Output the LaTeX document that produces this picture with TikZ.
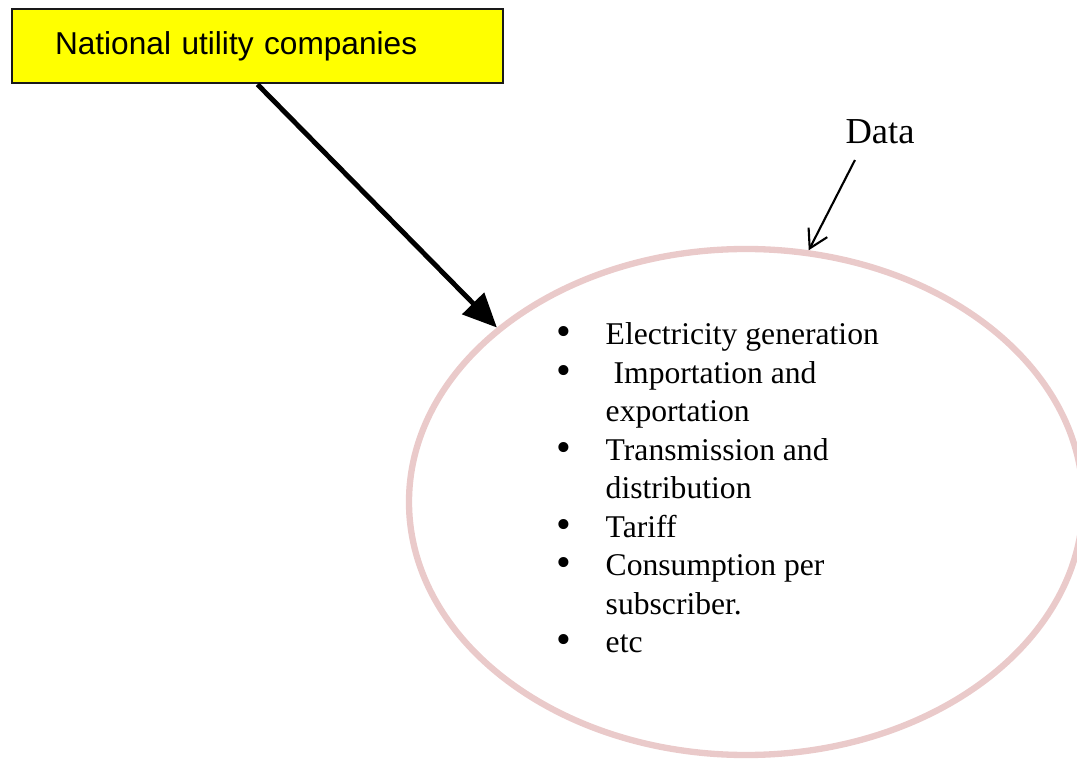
\documentclass[tikz,border=0pt]{standalone}
\usepackage{fontspec}
\setmainfont{Liberation Serif}
\newfontfamily\arialfont{Liberation Sans}
\usetikzlibrary{shapes.geometric,arrows.meta}
\definecolor{boxyellow}{RGB}{255,255,0}
\definecolor{rimpink}{RGB}{234,202,202}

\begin{document}
\begin{tikzpicture}
	\tikzstyle{company}=[rectangle,draw=black!90,line width=0.8pt,fill=boxyellow,minimum height=0.74cm,text width=4.05cm,inner xsep=0.43cm,inner ysep=0pt,align=left,font=\arialfont\fontsize{9pt}{11pt}\selectfont]
	\tikzstyle{dataring}=[ellipse,draw=rimpink,line width=1.8pt,minimum width=6.74cm,minimum height=5.06cm,inner sep=0pt]
	\tikzstyle{listline}=[inner sep=0pt,anchor=base west,font=\fontsize{9pt}{11pt}\selectfont]
	\tikzstyle{listdot}=[inner sep=0pt,font=\fontsize{12pt}{12pt}\selectfont]
	
	\useasboundingbox (0,0) rectangle (10.77,7.59);
	
	\node[company](utility)at(2.575,7.13){National utility companies};
	\node[dataring](data)at(7.46,2.57){};
	\node[inner sep=0.15cm,anchor=base,font=\fontsize{10.4pt}{12pt}\selectfont](datalabel)at(8.80,6.15){Data};
	
	% bullet list inside the ellipse
	\foreach \t [count=\i] in {Electricity generation,{\ Importation and},exportation,Transmission and,distribution,Tariff,Consumption per,subscriber.,etc}{
		\node[listline](line\i)at(6.05,{4.14-(\i-1)*0.385}){\t};
	};
	\foreach \i in {1,2,4,6,7,9}{
		\node[listdot](dot\i)at(5.64,{4.225-(\i-1)*0.385}){\textbullet};
	};
	
	\draw[line width=1.4pt,-{Triangle[length=3.4mm,width=3mm]}] (utility.south) -- (data.145);
	\draw[line width=0.6pt,-{Straight Barb[length=1.8mm,width=2.1mm]}] (datalabel.228) -- (data.76);
\end{tikzpicture}
\end{document}
